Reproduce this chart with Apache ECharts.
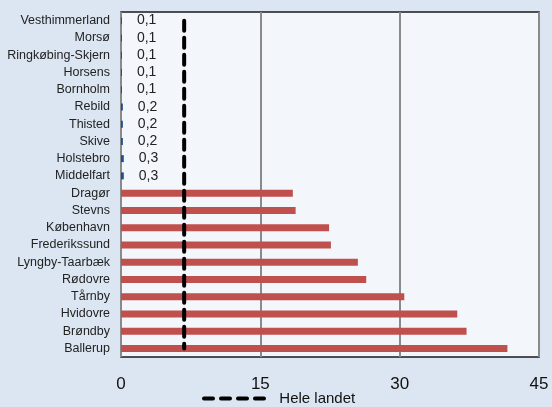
<!DOCTYPE html>
<html><head><meta charset="utf-8">
<script src="https://cdn.jsdelivr.net/npm/echarts@6/dist/echarts.min.js"></script>
<style>html,body{margin:0;padding:0;background:#DCE6F2;}#c{width:552px;height:407px;}</style>
</head><body><div id="c"></div>
<script>
const categories = ['Vesthimmerland','Morsø','Ringkøbing-Skjern','Horsens','Bornholm','Rebild','Thisted','Skive','Holstebro','Middelfart','Dragør','Stevns','København','Frederikssund','Lyngby-Taarbæk','Rødovre','Tårnby','Hvidovre','Brøndby','Ballerup'];
const values = [0.1,0.1,0.1,0.1,0.1,0.2,0.2,0.2,0.3,0.3,18.5,18.8,22.4,22.6,25.5,26.4,30.5,36.2,37.2,41.6];
const heleLandet = 6.8;
const xTicks = [0,15,30,45];
const lineValues = categories.map(() => heleLandet);

const chart = echarts.init(document.getElementById('c'));
const FONT = 'Liberation Sans';
const dashIcon = 'path://M2,0H11A2,2,0,0,1,11,4H2A2,2,0,0,1,2,0Z M19,0H28A2,2,0,0,1,28,4H19A2,2,0,0,1,19,0Z M36,0H45A2,2,0,0,1,45,4H36A2,2,0,0,1,36,0Z M53,0H62A2,2,0,0,1,62,4H53A2,2,0,0,1,53,0Z';
chart.setOption({
  backgroundColor: '#DCE6F2',
  textStyle: { fontFamily: FONT },
  grid: { left: 121, top: 12, right: 13, bottom: 50, show: true, backgroundColor: '#F3F6FB', borderColor: '#1a1a1a', borderWidth: 1.5 },
  xAxis: {
    type: 'value', min: xTicks[0], max: xTicks[xTicks.length-1], interval: 15,
    axisLine: { show: false }, axisTick: { show: false },
    splitLine: { show: true, lineStyle: { color: '#8a8a8a', width: 2 } },
    axisLabel: { fontSize: 17, color: '#111', margin: 19, fontFamily: FONT }
  },
  yAxis: {
    type: 'category', data: categories, inverse: true,
    axisLine: { show: false }, axisTick: { show: false },
    axisLabel: { fontSize: 12.5, color: '#222', margin: 11, fontFamily: FONT }
  },
  legend: {
    data: [{ name: 'Hele landet', icon: dashIcon }], left: 197, top: 386, itemWidth: 64, itemHeight: 4,
    formatter: n => '  ' + n,
    textStyle: { fontSize: 15, color: '#111', fontFamily: FONT }
  },
  series: [
    {
      type: 'bar', name: 'Andel', data: values, barWidth: 7,
      itemStyle: { color: p => p.value < 1 ? '#1F4E8C' : '#C0504D' },
      label: {
        show: true, position: 'right', distance: 15, fontSize: 14, color: '#222', fontFamily: FONT,
        formatter: p => p.value < 1 ? String(p.value).replace('.', ',') : ''
      },
      z: 2
    },
    {
      type: 'line', name: 'Hele landet', data: lineValues, symbol: 'none', z: 5,
      lineStyle: { color: '#000', width: 4, type: [10, 7], cap: 'round' },
      itemStyle: { color: '#000' }
    }
  ]
});
</script></body></html>
